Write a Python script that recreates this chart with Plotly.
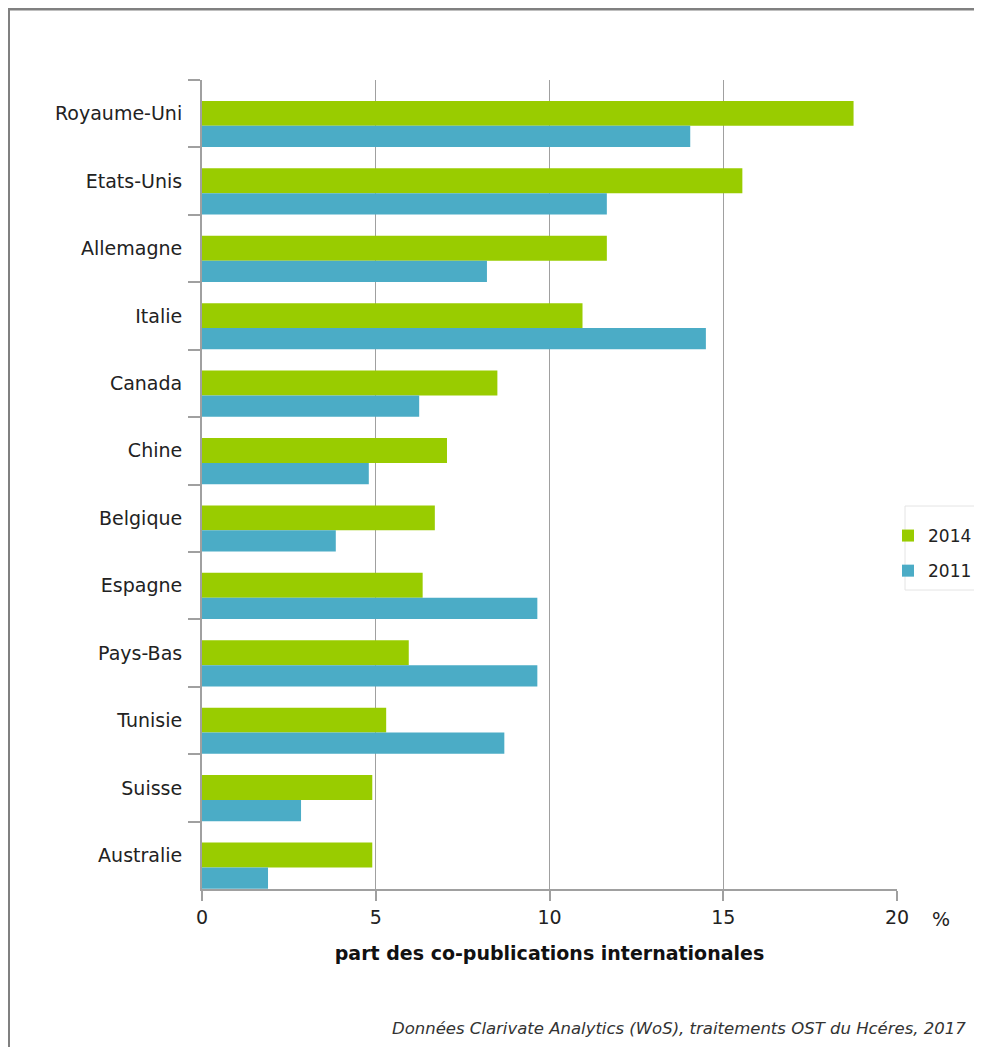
import plotly.graph_objects as go

countries = ["Royaume-Uni", "Etats-Unis", "Allemagne", "Italie", "Canada", "Chine",
             "Belgique", "Espagne", "Pays-Bas", "Tunisie", "Suisse", "Australie"]
share_2014 = [18.75, 15.55, 11.65, 10.95, 8.5, 7.05, 6.7, 6.35, 5.95, 5.3, 4.9, 4.9]
share_2011 = [14.05, 11.65, 8.2, 14.5, 6.25, 4.8, 3.85, 9.65, 9.65, 8.7, 2.85, 1.9]
x_ticks = [0, 5, 10, 15, 20]

GREEN = "#99cc00"
BLUE = "#4bacc6"
FONT = "DejaVu Sans"

fig = go.Figure()
fig.add_trace(go.Bar(y=countries, x=share_2014, orientation="h", name="2014",
                     offset=-0.19, width=0.37,
                     marker=dict(color=GREEN, line=dict(width=0)), legendgroup="a"))
fig.add_trace(go.Bar(y=countries, x=share_2011, orientation="h", name="2011",
                     offset=0.18, width=0.315,
                     marker=dict(color=BLUE, line=dict(width=0)), legendgroup="b"))

OFF = 8  # page body margin
W, H = 982 - OFF, 1047 - OFF
L, T = 202 - OFF, 80 - OFF
pw, ph = 695, 809
R, B = W - L - pw, H - T - ph


def px_x(p):
    return (p - OFF - L) / pw


def px_y(p):
    return (H - B - (p - OFF)) / ph


fig.update_layout(
    width=W, height=H,
    margin=dict(l=L, r=R, t=T, b=B, autoexpand=False),
    paper_bgcolor="white", plot_bgcolor="white",
    barmode="overlay",
    font=dict(family=FONT, color="#222222", size=19),
    showlegend=True,
    legend=dict(x=px_x(888), y=px_y(518), xanchor="left", yanchor="top",
                font=dict(size=17, family=FONT, color="#222222"),
                bgcolor="rgba(0,0,0,0)", borderwidth=0,
                traceorder="grouped", tracegroupgap=10),
    xaxis=dict(range=[0, 20], tickvals=x_ticks, showgrid=True, gridcolor="#a0a0a0",
               gridwidth=1, showline=True, linecolor="#a0a0a0", linewidth=2,
               ticks="outside", ticklen=10, tickcolor="#a0a0a0", tickwidth=2,
               tickfont=dict(size=19, family=FONT, color="#222222"),
               zeroline=False, fixedrange=True,
               title=dict(text="<b>part des co-publications internationales</b>",
                          font=dict(size=19, family=FONT, color="#111111"), standoff=20)),
    yaxis=dict(range=[11.5, -0.5], showgrid=False, showline=True, linecolor="#a0a0a0",
               linewidth=2, ticks="outside", ticklen=12, tickcolor="#a0a0a0", tickwidth=2,
               tickson="boundaries", tickfont=dict(size=19, family=FONT, color="#222222"),
               ticklabelstandoff=14, fixedrange=True),
    annotations=[
        dict(text="%", xref="paper", yref="paper", x=px_x(941), y=px_y(919),
             xanchor="center", yanchor="middle",
             showarrow=False, font=dict(size=19, family=FONT, color="#222222")),
        dict(text="<i>Données Clarivate Analytics (WoS), traitements OST du Hcéres, 2017</i>",
             xref="paper", yref="paper", x=px_x(968), y=px_y(1028), xanchor="right",
             yanchor="middle",
             showarrow=False, font=dict(size=16.5, family=FONT, color="#333333")),
    ],
    shapes=[
        dict(type="line", xref="paper", yref="paper", x0=px_x(8), x1=px_x(990),
             y0=px_y(9), y1=px_y(9), line=dict(color="#808080", width=3)),
        dict(type="line", xref="paper", yref="paper", x0=px_x(9), x1=px_x(9),
             y0=px_y(8), y1=px_y(1050), line=dict(color="#808080", width=2)),
        dict(type="rect", xref="paper", yref="paper", x0=px_x(905), x1=px_x(990),
             y0=px_y(506), y1=px_y(590), line=dict(color="#e4e4e4", width=1),
             layer="below"),
    ],
)

fig.write_html("out.html")
